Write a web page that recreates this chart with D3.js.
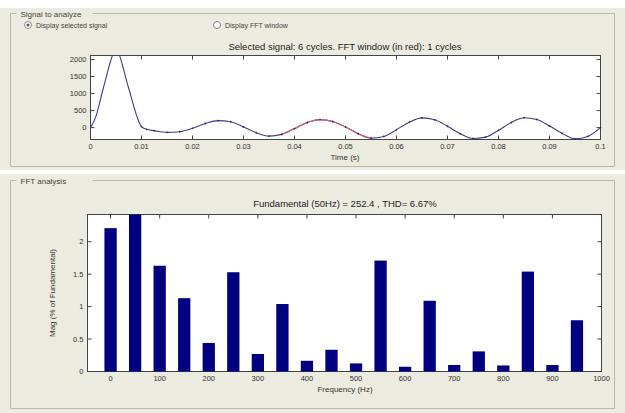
<!DOCTYPE html>
<html><head><meta charset="utf-8">
<script src="https://cdn.jsdelivr.net/npm/d3@7"></script>
<style>
html,body{margin:0;padding:0;background:#fff;}
svg{display:block;font-family:"Liberation Sans",Arial,sans-serif;}
</style></head>
<body><svg id="c" width="625" height="413"></svg>
<script>
// ---- data ----
const timeS = [0,0.001,0.0025,0.0045,0.005,0.0055,0.0075,0.01,0.011,0.0125,0.015,0.0175,0.02,0.0225,0.025,0.0275,0.03,0.0325,0.035,0.0375,0.04,0.0425,0.045,0.0475,0.05,0.0525,0.055,0.0575,0.06,0.0625,0.065,0.0675,0.07,0.0725,0.075,0.0775,0.08,0.0825,0.085,0.0875,0.09,0.0925,0.095,0.0975,0.1];
const signal = [0,300,1150,2200,2350,2200,1150,30,-50,-90,-140,-120,-20,120,205,170,20,-150,-250,-200,-30,150,235,180,20,-180,-310,-260,-60,160,285,230,40,-180,-320,-280,-80,150,290,240,50,-170,-330,-260,0];
const fftWindow = [0.036, 0.055];
const timeTicks = [0,0.01,0.02,0.03,0.04,0.05,0.06,0.07,0.08,0.09,0.1];
const timeTickLabels = ["0","0.01","0.02","0.03","0.04","0.05","0.06","0.07","0.08","0.09","0.1"];
const sigTicks = [0,500,1000,1500,2000];

const freqHz = [0,50,100,150,200,250,300,350,400,450,500,550,600,650,700,750,800,850,900,950];
const magPct = [2.21,2.42,1.63,1.13,0.44,1.53,0.27,1.04,0.165,0.335,0.125,1.71,0.073,1.09,0.1,0.31,0.093,1.54,0.1,0.79];
const freqTicks = [0,100,200,300,400,500,600,700,800,900,1000];
const magTicks = [0,0.5,1,1.5,2];
const magTickLabels = ["0","0.5","1","1.5","2"];

const svg = d3.select("#c");
const bg = "#ecebdf";
const txt = "#333";

// panels
svg.append("rect").attr("x",0).attr("y",8).attr("width",625).attr("height",162).attr("fill",bg);
svg.append("rect").attr("x",0).attr("y",174).attr("width",625).attr("height",239).attr("fill",bg);

function groupBox(x,y,w,h,label,lw){
  const g = svg.append("g").attr("fill","none").attr("stroke","#b8b8ac").attr("stroke-width",1);
  g.append("path").attr("d",`M${x+lw+12},${y}H${x+w}V${y+h}H${x}V${y}H${x+6}`);
  svg.append("text").attr("x",x+10).attr("y",y+3).attr("font-size",8).attr("fill","#444").text(label);
}
groupBox(10.5,13.5,604,153,"Signal to analyze",70);
groupBox(10.5,180.5,604,228,"FFT analysis",70);

// radio buttons
[[28,"Display selected signal"],[217,"Display FFT window"]].forEach(([x,l],i)=>{
  svg.append("circle").attr("cx",x).attr("cy",25).attr("r",3.5).attr("fill","#fff").attr("stroke","#888");
  if(i===0) svg.append("circle").attr("cx",x).attr("cy",25).attr("r",1.5).attr("fill","#555");
  svg.append("text").attr("x",x+8).attr("y",28).attr("font-size",7).attr("fill","#444").text(l);
});

function matlabAxes(g, x, y, xt, xtl, yt, ytl){
  const [x0,x1] = x.range(), [y1,y0] = y.range();
  g.append("rect").attr("x",x0).attr("y",y0).attr("width",x1-x0).attr("height",y1-y0)
    .attr("fill","#fff").attr("stroke","#444").attr("stroke-width",1);
  const tl = 4;
  xt.forEach((v,i)=>{
    const px = x(v);
    g.append("line").attr("x1",px).attr("x2",px).attr("y1",y1).attr("y2",y1-tl).attr("stroke","#444");
    g.append("line").attr("x1",px).attr("x2",px).attr("y1",y0).attr("y2",y0+tl).attr("stroke","#444");
    g.append("text").attr("x",px).attr("y",y1+9.5).attr("text-anchor","middle").attr("font-size",7.5).attr("fill",txt).text(xtl[i]);
  });
  yt.forEach((v,i)=>{
    const py = y(v);
    g.append("line").attr("x1",x0).attr("x2",x0+tl).attr("y1",py).attr("y2",py).attr("stroke","#444");
    g.append("line").attr("x1",x1).attr("x2",x1-tl).attr("y1",py).attr("y2",py).attr("stroke","#444");
    g.append("text").attr("x",x0-4).attr("y",py+2.5).attr("text-anchor","end").attr("font-size",7.5).attr("fill",txt).text(ytl[i]);
  });
}

// ---- top plot ----
const xT = d3.scaleLinear().domain([0,0.1]).range([90.5,600.5]);
const yT = d3.scaleLinear().domain([-350,2120]).range([139.5,55.5]);
const gT = svg.append("g");
matlabAxes(gT, xT, yT, timeTicks, timeTickLabels, sigTicks, sigTicks.map(String));
const clip = svg.append("clipPath").attr("id","clipT");
clip.append("rect").attr("x",90.5).attr("y",55.5).attr("width",510).attr("height",84);
const pts = timeS.map((t,i)=>[t,signal[i]]);
const line = d3.line().x(d=>xT(d[0])).y(d=>yT(d[1])).curve(d3.curveMonotoneX);
gT.append("path").attr("clip-path","url(#clipT)").attr("d",line(pts)).attr("fill","none").attr("stroke","#3c3c96").attr("stroke-width",1.1);
const redPts = pts.filter(d=>d[0]>=fftWindow[0]-1e-9 && d[0]<=fftWindow[1]+1e-9);
gT.append("path").attr("clip-path","url(#clipT)").attr("d",line(redPts)).attr("fill","none").attr("stroke","#d86080").attr("stroke-width",1.1);
gT.selectAll("circle.pt").data(pts.filter(d=>d[0]>=0.01)).enter().append("circle")
  .attr("cx",d=>xT(d[0])).attr("cy",d=>yT(d[1])).attr("r",0.9).attr("fill","#333");
svg.append("text").attr("x",345).attr("y",50).attr("text-anchor","middle").attr("font-size",9.5).attr("fill","#222")
  .text("Selected signal: 6 cycles. FFT window (in red): 1 cycles");
svg.append("text").attr("x",345).attr("y",160).attr("text-anchor","middle").attr("font-size",8).attr("fill",txt).text("Time (s)");

// ---- bottom plot ----
const xB = d3.scaleLinear().domain([-47,1000]).range([87.5,601.5]);
const yB = d3.scaleLinear().domain([0,2.42]).range([371.5,214.5]);
const gB = svg.append("g");
matlabAxes(gB, xB, yB, freqTicks, freqTicks.map(String), magTicks, magTickLabels);
const bw = xB(25)-xB(0);
gB.selectAll("rect.bar").data(freqHz).enter().append("rect")
  .attr("x",(d)=>xB(d)-bw/2).attr("y",(d,i)=>yB(magPct[i]))
  .attr("width",bw).attr("height",(d,i)=>yB(0)-yB(magPct[i]))
  .attr("fill","#000080");
svg.append("text").attr("x",345).attr("y",207).attr("text-anchor","middle").attr("font-size",9.5).attr("fill","#222")
  .text("Fundamental (50Hz) = 252.4 , THD= 6.67%");
svg.append("text").attr("x",345).attr("y",392).attr("text-anchor","middle").attr("font-size",8).attr("fill",txt).text("Frequency (Hz)");
svg.append("text").attr("transform","translate(55,293) rotate(-90)").attr("text-anchor","middle").attr("font-size",8).attr("fill",txt).text("Mag (% of Fundamental)");
</script></body></html>
